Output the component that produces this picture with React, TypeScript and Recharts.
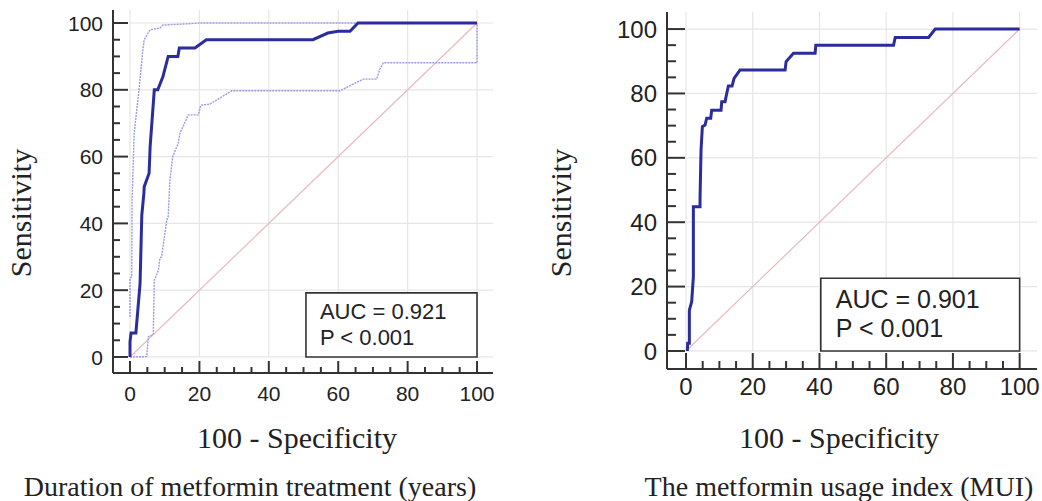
import React from "react"
import { LineChart, Line, XAxis, YAxis, ReferenceLine, ReferenceArea } from "recharts"

// left panel: duration of metformin treatment
const durationFpr = [0, 0, 0.3, 1.7, 2.7, 2.9, 3.4, 4, 4.1, 5.5, 5.8, 7, 8, 9.5, 11, 13.8, 14.2, 18.7, 22, 52.7, 57, 60, 63.4, 65.7, 100]
const durationSens = [0, 4.5, 7.2, 7.2, 19.6, 22, 42.5, 49, 51, 55, 63, 80, 80, 84, 90, 90, 92.5, 92.5, 95, 95, 97, 97.5, 97.5, 100, 100]

const durationUpperFpr = [0, 0, 0.5, 0.6, 1.2, 2.7, 3.7, 4.1, 5.8, 8.6, 9.5, 15.3, 20, 100]
const durationUpperSens = [12, 23.6, 24, 47, 67, 81, 92, 95, 98, 98.5, 99.4, 99.7, 100, 100]

const durationLowerFpr = [0, 4.8, 5.3, 6.7, 7, 8.2, 8.6, 9.1, 10.6, 11, 11.5, 12.3, 13.9, 14.4, 16.8, 19.7, 20.4, 23, 29.3, 60.5, 67.2, 71.1, 71.9, 73, 100, 100]
const durationLowerSens = [0, 0.1, 6.1, 6.6, 23, 26, 29.6, 30, 41, 42, 53, 60, 64, 67, 72.5, 72.5, 75.4, 75.7, 79.7, 79.7, 83.2, 83.2, 86, 88.1, 88.1, 100]

// right panel: metformin usage index
const muiFpr = [0.4, 0.5, 1, 1, 1.7, 2.2, 2.2, 4.2, 4.2, 4.5, 4.9, 5.7, 6.2, 7.4, 7.7, 10.5, 10.7, 11.7, 12.2, 12.7, 13.8, 14.4, 16.2, 29.7, 30, 32.2, 38.7, 38.9, 62.2, 62.7, 72.7, 74.7, 100]
const muiSens = [0, 2.4, 2.4, 12.7, 15.3, 23, 44.8, 44.8, 47.3, 62.4, 69.7, 70.2, 72.3, 72.3, 74.8, 74.8, 77.4, 77.4, 80, 82.3, 82.3, 84.7, 87.3, 87.3, 89.9, 92.5, 92.5, 95, 95, 97.4, 97.4, 100, 100]

const refFpr = [0, 100]
const refSens = [0, 100]

const minorTicks = [0, 5, 10, 15, 20, 25, 30, 35, 40, 45, 50, 55, 60, 65, 70, 75, 80, 85, 90, 95, 100]
const gridValues = [0, 20, 40, 60, 80, 100]

const leftStats = ["AUC = 0.921", "P < 0.001"]
const rightStats = ["AUC = 0.901", "P < 0.001"]

const toPoints = (xs: number[], ys: number[]) => xs.map((x, i) => ({ x, y: ys[i] }))

const SANS = "'Liberation Sans', Arial, sans-serif"
const SERIF = "'Liberation Serif', 'Times New Roman', serif"
const MAIN = "#2b2d9c"
const CI = "#9a9ae2"
const DIAG = "#e6baba"
const GRID = "#e6e6e6"

function makeYTick(major: number, minor: number, fontSize: number) {
  return (props: any) => {
    const { x, y, payload } = props
    const isMajor = payload.value % 20 === 0
    return (
      <g>
        <line x1={x} x2={x + (isMajor ? major : minor)} y1={y} y2={y} stroke="#333" strokeWidth={2} />
        {isMajor && (
          <text x={x - 10} y={y} dy="0.36em" textAnchor="end" fontSize={fontSize} fontFamily={SANS} fill="#222">
            {payload.value}
          </text>
        )}
      </g>
    )
  }
}

function makeXTick(major: number, minor: number, fontSize: number, base: number) {
  return (props: any) => {
    const { x, y, payload } = props
    const isMajor = payload.value % 20 === 0
    return (
      <g>
        <line x1={x} x2={x} y1={y} y2={y - (isMajor ? major : minor)} stroke="#333" strokeWidth={2} />
        {isMajor && (
          <text x={x} y={y + base} textAnchor="middle" fontSize={fontSize} fontFamily={SANS} fill="#222">
            {payload.value}
          </text>
        )}
      </g>
    )
  }
}

function StatsBox(props: any) {
  const { viewBox, lines, fontSize, padX, first, step } = props
  if (!viewBox) return null
  return (
    <g>
      {lines.map((t: string, i: number) => (
        <text key={i} x={viewBox.x + padX} y={viewBox.y + first + i * step} fontSize={fontSize} fontFamily={SANS} fill="#222">
          {t}
        </text>
      ))}
    </g>
  )
}

interface PanelProps {
  left: number
  top: number
  margin: { top: number; right: number; left: number; bottom: number }
  yWidth: number
  xHeight: number
  xDomain: [number, number]
  yDomain: [number, number]
  curves: { data: { x: number; y: number }[]; color: string; width: number; dash?: string }[]
  box: [number, number, number, number]
  stats: string[]
  tickFont: number
  boxFont: number
  yMajor: number
  yMinor: number
  xMajor: number
  xMinor: number
  xBase: number
  boxPad: number
  boxFirst: number
  boxStep: number
}

const W = 500
const H = 420

function RocPanel(p: PanelProps) {
  return (
    <div style={{ position: "absolute", left: p.left, top: p.top }}>
      <LineChart width={W} height={H} margin={p.margin}>
        <XAxis
          type="number"
          dataKey="x"
          domain={p.xDomain}
          allowDataOverflow
          ticks={minorTicks}
          interval={0}
          height={p.xHeight}
          tickSize={0}
          tickMargin={0}
          tickLine={false}
          axisLine={{ stroke: "#333", strokeWidth: 2 }}
          tick={makeXTick(p.xMajor, p.xMinor, p.tickFont, p.xBase)}
        />
        <YAxis
          type="number"
          domain={p.yDomain}
          allowDataOverflow
          ticks={minorTicks}
          interval={0}
          width={p.yWidth}
          tickSize={0}
          tickMargin={0}
          tickLine={false}
          axisLine={{ stroke: "#333", strokeWidth: 2 }}
          tick={makeYTick(p.yMajor, p.yMinor, p.tickFont)}
        />
        {gridValues.map((v) => (
          <ReferenceLine key={"h" + v} segment={[{ x: 0, y: v }, { x: p.xDomain[1], y: v }]} stroke={GRID} strokeWidth={1.2} />
        ))}
        {gridValues.map((v) => (
          <ReferenceLine key={"v" + v} segment={[{ x: v, y: 0 }, { x: v, y: p.yDomain[1] }]} stroke={GRID} strokeWidth={1.2} />
        ))}
        <Line data={toPoints(refFpr, refSens)} dataKey="y" stroke={DIAG} strokeWidth={1.2} dot={false} isAnimationActive={false} />
        {p.curves.map((c, i) => (
          <Line
            key={i}
            data={c.data}
            dataKey="y"
            stroke={c.color}
            strokeWidth={c.width}
            strokeDasharray={c.dash}
            dot={false}
            isAnimationActive={false}
          />
        ))}
      </LineChart>
      {/* stats box drawn in its own layer so it sits above grid and curves */}
      <div style={{ position: "absolute", left: 0, top: 0 }}>
        <LineChart width={W} height={H} margin={{ ...p.margin, left: p.margin.left + p.yWidth, bottom: p.margin.bottom + p.xHeight }}>
          <XAxis type="number" dataKey="x" domain={p.xDomain} allowDataOverflow hide />
          <YAxis type="number" domain={p.yDomain} allowDataOverflow hide />
          <ReferenceArea
            x1={p.box[0]}
            x2={p.box[1]}
            y1={p.box[2]}
            y2={p.box[3]}
            fill="#fff"
            fillOpacity={1}
            stroke="#333"
            strokeWidth={1.6}
            label={<StatsBox lines={p.stats} fontSize={p.boxFont} padX={p.boxPad} first={p.boxFirst} step={p.boxStep} />}
          />
        </LineChart>
      </div>
    </div>
  )
}

export default function App() {
  return (
    <div style={{ position: "absolute", left: 0, top: 0, width: 1042, height: 501, background: "#fff", overflow: "hidden" }}>
      <RocPanel
        left={0}
        top={0}
        margin={{ top: 10, right: 7, left: 0, bottom: 20 }}
        yWidth={113}
        xHeight={27}
        xDomain={[-4.9, 104.6]}
        yDomain={[-4.8, 103.9]}
        curves={[
          { data: toPoints(durationUpperFpr, durationUpperSens), color: CI, width: 1.4, dash: "2 1" },
          { data: toPoints(durationLowerFpr, durationLowerSens), color: CI, width: 1.4, dash: "2 1" },
          { data: toPoints(durationFpr, durationSens), color: MAIN, width: 3 },
        ]}
        box={[50.7, 100, 0, 19.2]}
        stats={leftStats}
        tickFont={21}
        boxFont={22}
        yMajor={15}
        yMinor={7}
        xMajor={12}
        xMinor={6}
        xBase={28}
        boxPad={14}
        boxFirst={26}
        boxStep={26}
      />
      <RocPanel
        left={540}
        top={0}
        margin={{ top: 12, right: 3, left: 0, bottom: 20 }}
        yWidth={127}
        xHeight={31}
        xDomain={[-5.7, 105.2]}
        yDomain={[-5.6, 105.3]}
        curves={[{ data: toPoints(muiFpr, muiSens), color: MAIN, width: 3 }]}
        box={[40.4, 100, 0, 22.6]}
        stats={rightStats}
        tickFont={24}
        boxFont={25}
        yMajor={18}
        yMinor={9}
        xMajor={16}
        xMinor={8}
        xBase={26}
        boxPad={15}
        boxFirst={30}
        boxStep={29}
      />
      <svg width={1042} height={501} style={{ position: "absolute", left: 0, top: 0, pointerEvents: "none" }}>
        <g fontFamily={SERIF} fill="#222">
          <text transform="translate(31,213) rotate(-90)" textAnchor="middle" fontSize={30}>Sensitivity</text>
          <text transform="translate(571,213) rotate(-90)" textAnchor="middle" fontSize={30}>Sensitivity</text>
          <text x={297} y={448} textAnchor="middle" fontSize={30}>100 - Specificity</text>
          <text x={839} y={448} textAnchor="middle" fontSize={30}>100 - Specificity</text>
          <text x={250} y={496} textAnchor="middle" fontSize={28}>Duration of metformin treatment (years)</text>
          <text x={839} y={496} textAnchor="middle" fontSize={28}>The metformin usage index (MUI)</text>
        </g>
      </svg>
    </div>
  )
}
